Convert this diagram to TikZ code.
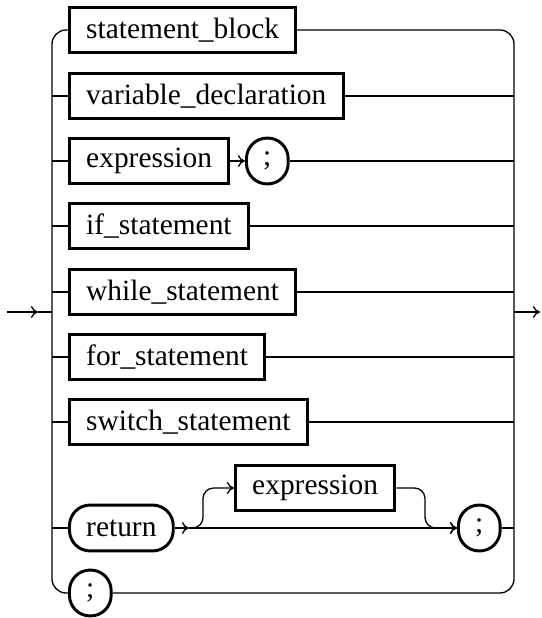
\documentclass[tikz,border=0pt]{standalone}
\usepackage{fontspec}
\setmainfont{Liberation Serif}
\usetikzlibrary{arrows.meta}
\begin{document}
\begin{tikzpicture}[x=0.34pt, y=-0.34pt,
  nonterm/.style={draw, line width=1pt, rectangle, minimum height=15.6pt,
    inner xsep=5.7pt, inner ysep=0pt, anchor=west,
    font=\fontsize{10}{12}\selectfont},
  term/.style={nonterm, rounded corners=7pt},
  rail/.style={line width=0.45pt},
  flow/.style={rail, -{To[length=2.4pt,width=4pt]}},
  outercorner/.style={rounded corners=4.8pt},
  sidecorner/.style={rounded corners=3.6pt}]
\useasboundingbox (0,0) rectangle (541,618);

% junction points of the left and right rails
\coordinate (jl) at (52,312);
\coordinate (jr) at (514,312);
\coordinate (entry) at (7,312);
\coordinate (entrytip) at (38,312);
\coordinate (exit) at (540,312);

% alternatives
\node[nonterm] (sb)  at (68,30)  {statement\_block};
\node[nonterm] (vd)  at (68,96)  {variable\_declaration};
\node[nonterm] (ex)  at (68,161) {expression};
\node[term]    (sc1) at (245,161) {;};
\node[nonterm] (ifs) at (68,226) {if\_statement};
\node[nonterm] (wh)  at (68,292) {while\_statement};
\node[nonterm] (fo)  at (68,357) {for\_statement};
\node[nonterm] (sw)  at (68,422) {switch\_statement};
\node[term]    (ret) at (68,528) {return};
\node[nonterm] (ex2) at (234,488) {expression};
\node[term]    (sc3) at (457,528) {;};
\node[term]    (sc2) at (68,593) {;};

% entry and exit
\draw[flow] (entry) -- (entrytip);
\draw[rail] (entrytip) -- (jl);
\draw[flow] (jr) -- (exit);

% outer rails with rounded corners at the first and last alternative
\draw[rail, outercorner] (sb.west) -| (jl) |- (sc2.west);
\draw[rail, outercorner] (sb.east) -| (jr) |- (sc2.east);

% branches from the left rail
\foreach \n in {vd, ex, ifs, wh, fo, sw, ret}
  \draw[rail] (\n.west -| jl) -- (\n.west);

% branches into the right rail
\foreach \n in {vd, sc1, ifs, wh, fo, sw, sc3}
  \draw[rail] (\n.east) -- (\n.east -| jr);

% expression ;
\draw[flow] (ex.east) -- (sc1.west);

% return [expression] ;
\coordinate (rm) at (189,528);
\coordinate (up) at (203,508);
\coordinate (dn) at (425,508);
\draw[flow] (ret.east) -- (rm);
\draw[flow] (rm) -- (sc3.west);
\draw[flow, sidecorner] (rm) -| (up) |- (ex2.west);
\draw[flow, sidecorner] (ex2.east) -| (dn) |- (sc3.west);
\end{tikzpicture}
\end{document}
